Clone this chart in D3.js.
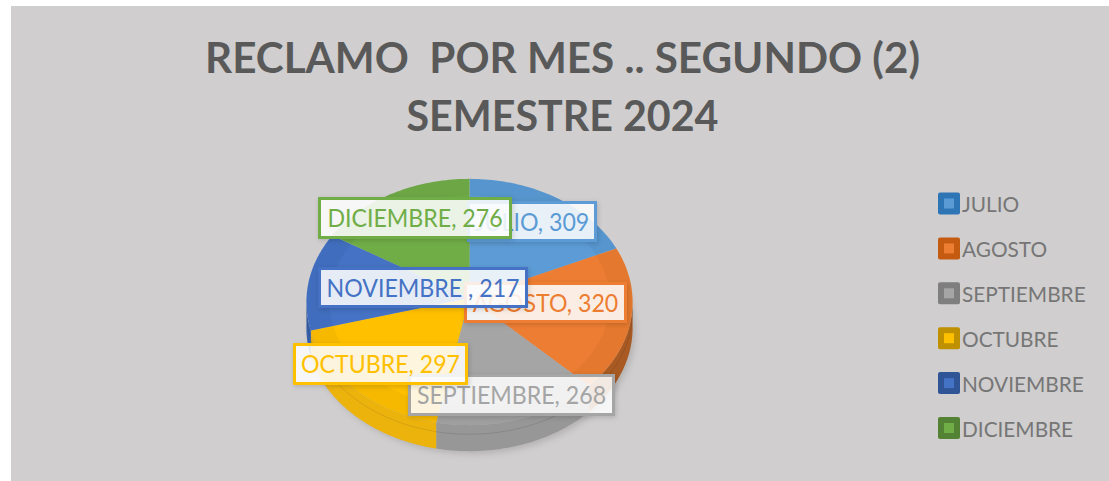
<!DOCTYPE html>
<html><head><meta charset="utf-8">
<script src="https://d3js.org/d3.v7.min.js"></script>
<style>html,body{margin:0;padding:0;background:#fff}svg{display:block}text{font-family:Lato,Carlito,"Open Sans",sans-serif}</style>
</head><body><svg id="c" width="1109" height="481"></svg>
<script>
const titleLines = ["RECLAMO  POR MES .. SEGUNDO (2)", "SEMESTRE 2024"];
const titleWidths = [715, 312];
const months = ["JULIO","AGOSTO","SEPTIEMBRE","OCTUBRE","NOVIEMBRE","DICIEMBRE"];
const values = [309,320,268,297,217,276];
const labelNames = ["JULIO","AGOSTO","SEPTIEMBRE","OCTUBRE","NOVIEMBRE ","DICIEMBRE"];
const colors = ["#5b9bd5","#ed7d31","#a5a5a5","#ffc000","#4472c4","#70ad47"];
const darks = ["#2e75b6","#c55a11","#7f7f7f","#bf9000","#2f5597","#548235"];
const wallColors = ["#4a85bb","#a85a24","#979797","#edb30c","#3660a8","#5f9539"];
const labelBoxes = [
 {x:468.5,y:202.5,w:127,h:38},{x:465.5,y:283.5,w:160,h:38},{x:409.5,y:375.5,w:204,h:39},
 {x:294.5,y:344.5,w:172,h:39},{x:319.5,y:268.5,w:207,h:38},{x:319.5,y:198.5,w:191,h:39}];
const labelOrder = [0,1,2,5,4,3];

const svg = d3.select("#c");
svg.append("rect").attr("x",11).attr("y",6).attr("width",1098).attr("height",475).attr("fill","#d0cece");

const title = svg.append("g").attr("fill","#595959").attr("font-weight",700).attr("font-size",41.5).attr("text-anchor","middle");
title.selectAll("text").data(titleLines).join("text")
  .attr("x",562.5).attr("y",(d,i)=>73+i*58).attr("textLength",(d,i)=>titleWidths[i]).attr("lengthAdjust","spacingAndGlyphs")
  .style("white-space","pre").text(d=>d);

const cx=469.5, cy=298, rx=163, ry=123, depth=26, persp=0.0325;
const defs = svg.append("defs");
const f = defs.append("filter").attr("id","sh").attr("x","-20%").attr("y","-20%").attr("width","140%").attr("height","140%");
f.append("feDropShadow").attr("dx",1).attr("dy",1.5).attr("stdDeviation",2.5).attr("flood-color","#000").attr("flood-opacity",0.16);
defs.append("filter").attr("id","blur").append("feGaussianBlur").attr("stdDeviation",3);
defs.append("filter").attr("id","soft").append("feGaussianBlur").attr("stdDeviation",0.5);

const arcs = d3.pie().sort(null).value(d=>d)(values);
const line = d3.line();
// perspective projection of a point on the pie disc
const P = (a,r=1,dz=0)=>{
  const u=r*Math.sin(a), v=-r*Math.cos(a), w=1-persp*v;
  return [cx+rx*u/w, cy+ry*v/w+dz];
};
const samples = (s,e,n=48)=>d3.range(n+1).map(k=>s+(e-s)*k/n);

svg.append("ellipse").attr("cx",cx+3).attr("cy",cy+depth+7).attr("rx",rx).attr("ry",ry).attr("fill","#8a8888").attr("opacity",.4).attr("filter","url(#blur)");

const pieG = svg.append("g").attr("filter","url(#soft)");
// side walls: lower half only
arcs.forEach((d,i)=>{
  const s=Math.max(d.startAngle,Math.PI/2), e=Math.min(d.endAngle,Math.PI*1.5);
  if(e<=s) return;
  const a=samples(s,e);
  const pts=a.map(t=>P(t)).concat(a.slice().reverse().map(t=>P(t,1,depth)));
  pieG.append("path").attr("d",line(pts)+"Z").attr("fill",wallColors[i]);
  pieG.append("path").attr("d",line(a.map(t=>P(t,1,depth*0.35)))).attr("fill","none").attr("stroke","#000").attr("stroke-opacity",.1);
});
// top faces and inner bevel band
arcs.forEach((d,i)=>{
  const a=samples(d.startAngle,d.endAngle);
  pieG.append("path").attr("d",line([[cx,cy],...a.map(t=>P(t))])+"Z").attr("fill",colors[i]);
  const ring=a.map(t=>P(t,1)).concat(a.slice().reverse().map(t=>P(t,0.86)));
  pieG.append("path").attr("d",line(ring)+"Z").attr("fill","#000").attr("opacity",.035);
});

// labels
const lab = svg.append("g").attr("font-size",24.5).attr("text-anchor","middle");
labelOrder.forEach(i=>{
  const r=labelBoxes[i], g=lab.append("g");
  g.append("rect").attr("x",r.x).attr("y",r.y).attr("width",r.w).attr("height",r.h)
   .attr("fill","#fff").attr("fill-opacity",.86).attr("stroke",colors[i]).attr("stroke-width",3).attr("filter","url(#sh)");
  const t=g.append("text").attr("x",r.x+r.w/2).attr("y",r.y+r.h/2+9.2).attr("fill",colors[i]).style("white-space","pre")
   .text(`${labelNames[i]}, ${values[i]}`);
  t.attr("textLength",t.node().getComputedTextLength()*0.945).attr("lengthAdjust","spacingAndGlyphs");
});

// legend
const legendY = d3.scalePoint().domain(months).range([203.5,428]);
const lg = svg.append("g").selectAll("g").data(months).join("g").attr("transform",d=>`translate(938,${legendY(d)})`);
lg.append("rect").attr("x",0).attr("y",-11).attr("width",22).attr("height",22).attr("rx",2).attr("fill",(d,i)=>darks[i]);
lg.append("rect").attr("x",6).attr("y",-5).attr("width",10).attr("height",10).attr("fill",(d,i)=>colors[i]);
lg.append("text").attr("x",24).attr("y",8.5).attr("font-size",22).attr("fill","#767676").each(function(d){
  const t=d3.select(this).text(d);
  t.attr("textLength",this.getComputedTextLength()*0.945).attr("lengthAdjust","spacingAndGlyphs");
});
</script></body></html>
